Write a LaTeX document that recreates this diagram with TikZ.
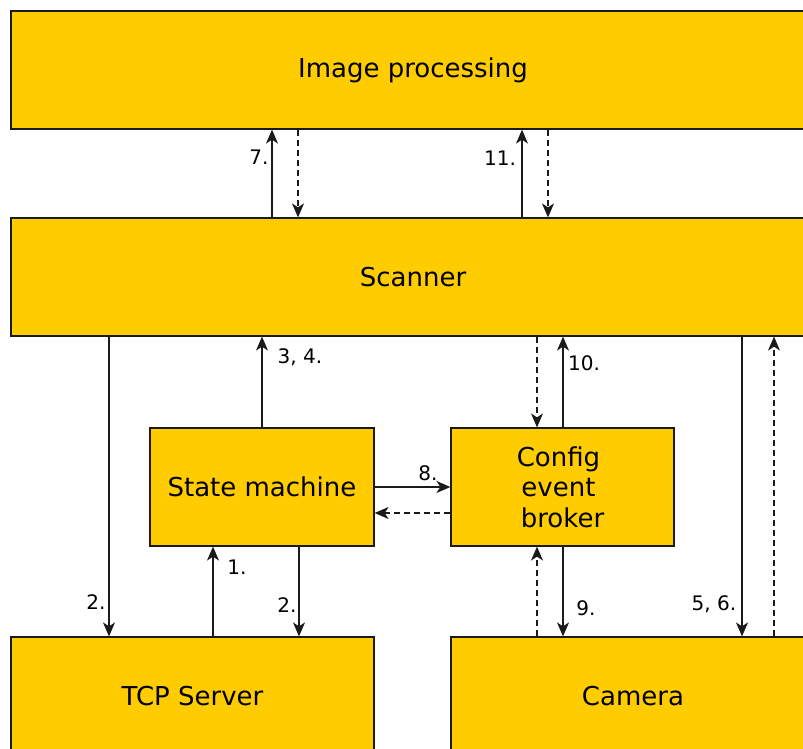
\documentclass[tikz,border=0pt]{standalone}
\usepackage{fontspec}
\setmainfont{DejaVu Sans}
\usetikzlibrary{arrows.meta}
\definecolor{boxfill}{HTML}{FFCC00}
\definecolor{boxline}{HTML}{1A1A1A}
\tikzset{
  x=1pt, y=-1pt,
  block/.style={draw=boxline, line width=1.2pt, fill=boxfill, rectangle,
    inner sep=0pt, align=center, font=\fontsize{26}{30.5}\selectfont},
  flow/.style={line width=1.3pt, draw=boxline,
    -{Stealth[length=14pt,width=12pt,inset=4pt]}},
  back/.style={flow, dash pattern=on 6pt off 4pt},
  tag/.style={font=\fontsize{20}{24}\selectfont, inner sep=0pt}
}
\begin{document}
\begin{tikzpicture}
\useasboundingbox (0,0) rectangle (803,749);
\clip (0,0) rectangle (803,749);

% blocks
\node[block, minimum width=804pt, minimum height=118pt] (img)  at (413,70)  {Image processing};
\node[block, minimum width=804pt, minimum height=118pt] (scan) at (413,277) {Scanner};
\node[block, minimum width=224pt, minimum height=118pt] (sm)   at (262,487) {State machine};
\node[block, minimum width=223pt, minimum height=118pt] (cfg)  at (562.5,487)
  {\hbox{Config\kern8pt}\\\hbox{event\kern8pt}\\\hbox{broker}};
\node[block, minimum width=363pt, minimum height=118pt] (tcp)  at (192.5,696) {TCP Server};
\node[block, minimum width=364pt, minimum height=118pt] (cam)  at (633,696) {Camera};

% scanner <-> image processing
\draw[flow] (scan.north -| 272,0) -- (img.south -| 272,0);
\draw[back] (img.south -| 298,0) -- (scan.north -| 298,0);
\draw[flow] (scan.north -| 522,0) -- (img.south -| 522,0);
\draw[back] (img.south -| 548,0) -- (scan.north -| 548,0);

% scanner -> tcp server
\draw[flow] (scan.south -| 109,0) -- (tcp.north -| 109,0);

% state machine -> scanner
\draw[flow] (sm.north) -- (scan.south -| sm.north);

% scanner <-> config broker
\draw[back] (scan.south -| 537,0) -- (cfg.north -| 537,0);
\draw[flow] (cfg.north -| 563,0) -- (scan.south -| 563,0);

% state machine <-> config broker
\draw[flow] (sm.east |- 0,487) -- (cfg.west |- 0,487);
\draw[back] (cfg.west |- 0,513) -- (sm.east |- 0,513);

% tcp server <-> state machine
\draw[flow] (tcp.north -| 213,0) -- (sm.south -| 213,0);
\draw[flow] (sm.south -| 299,0) -- (tcp.north -| 299,0);

% camera <-> config broker
\draw[back] (cam.north -| 537,0) -- (cfg.south -| 537,0);
\draw[flow] (cfg.south -| 563,0) -- (cam.north -| 563,0);

% scanner <-> camera
\draw[flow] (scan.south -| 742,0) -- (cam.north -| 742,0);
\draw[back] (cam.north -| 774,0) -- (scan.south -| 774,0);

% step numbers
\node[tag] (t7)  at (259,157) {7.};
\node[tag] (t11) at (500,158) {11.};
\node[tag] (t34) at (300,357) {3, 4.};
\node[tag] (t10) at (584,363) {10.};
\node[tag] (t8)  at (428,473) {8.};
\node[tag] (t1)  at (237,567) {1.};
\node[tag] (t2a) at (96,602)  {2.};
\node[tag] (t2b) at (287,605) {2.};
\node[tag] (t9)  at (586,608) {9.};
\node[tag] (t56) at (714,604) {5, 6.};
\end{tikzpicture}
\end{document}
